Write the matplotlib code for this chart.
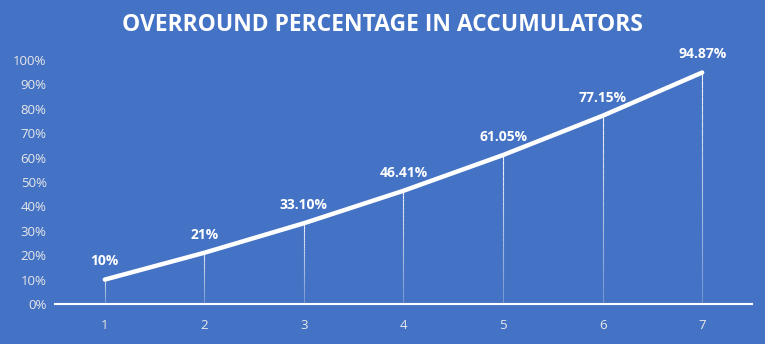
#!/usr/bin/python3

from matplotlib import pyplot as plt
import numpy as np

bets = [1, 2, 3, 4, 5, 6, 7]
overround = [10, 21, 33.10, 46.41, 61.05, 77.15, 94.87]
labels = ['10%', '21%', '33.10%', '46.41%', '61.05%', '77.15%', '94.87%']

bg = '#4472C4'

fig = plt.figure(figsize=(7.65, 3.44), dpi=100)
fig.patch.set_facecolor(bg)
ax = fig.add_axes([0.0719, 0.1163, 0.9111, 0.7093])
ax.set_facecolor(bg)

# drop lines, fading towards the axis
for x, y in zip(bets, overround):
    ys = np.linspace(0, y, 30)
    for k in range(len(ys) - 1):
        ax.plot([x, x], [ys[k], ys[k + 1]], color='white', lw=0.8,
                alpha=0.25 + 0.7 * k / (len(ys) - 1), solid_capstyle='butt')

ax.plot(bets, overround, color='white', lw=3.2, solid_joinstyle='round',
        solid_capstyle='round', zorder=3)

for x, y, t in zip(bets, overround, labels):
    ax.annotate(t, (x, y), xytext=(0, 8), textcoords='offset points',
                ha='center', va='bottom', color='white', fontsize=10,
                fontweight='bold', family='Open Sans')

ax.set_xlim(0.5, 7.5)
ax.set_ylim(0, 100)
ax.set_yticks(range(0, 101, 10))
ax.set_yticklabels(['{}%'.format(v) for v in range(0, 101, 10)])
ax.set_xticks(bets)
ax.tick_params(length=0, colors='#E8E8E8', labelsize=9.5)
ax.tick_params(axis='x', pad=11)
ax.tick_params(axis='y', pad=6)
for lab in ax.get_xticklabels() + ax.get_yticklabels():
    lab.set_family('Open Sans')

for s in ['top', 'right', 'left']:
    ax.spines[s].set_visible(False)
ax.spines['bottom'].set_color('white')
ax.spines['bottom'].set_linewidth(1.5)

fig.text(0.5, 0.927, 'OVERROUND PERCENTAGE IN ACCUMULATORS', ha='center',
         va='center', color='white', fontsize=16.5, fontweight='bold',
         family='Open Sans')

plt.savefig('out.png', dpi=100, facecolor=bg)
